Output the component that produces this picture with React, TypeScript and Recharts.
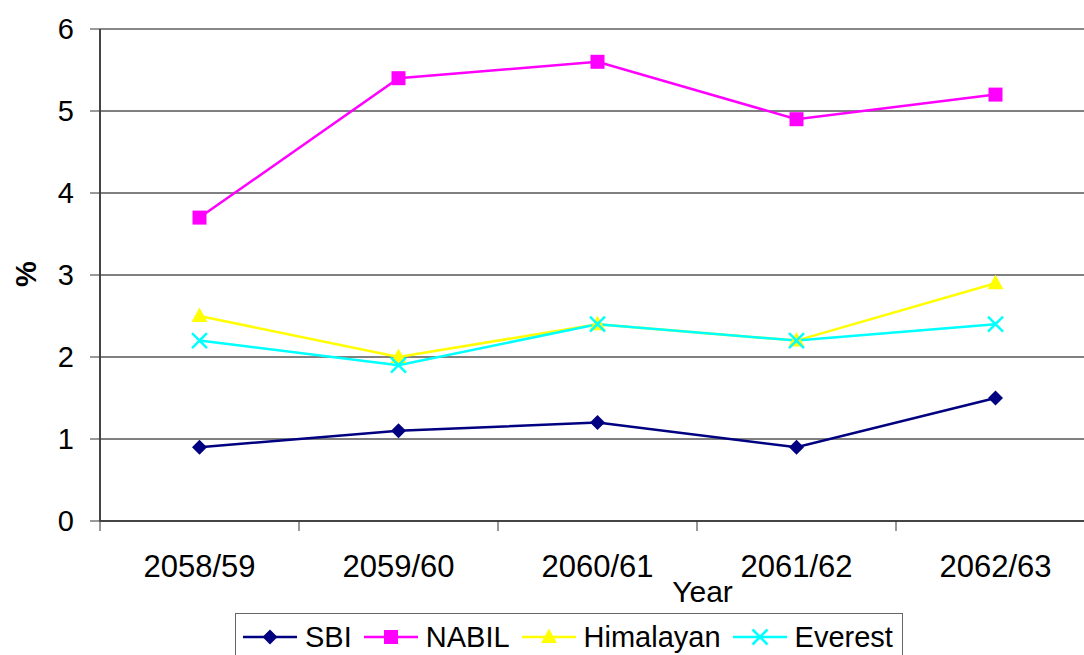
import { LineChart, Line, XAxis, YAxis, CartesianGrid, ReferenceLine } from 'recharts';

const years = ['2058/59', '2059/60', '2060/61', '2061/62', '2062/63'];
const sbi = [0.9, 1.1, 1.2, 0.9, 1.5];
const nabil = [3.7, 5.4, 5.6, 4.9, 5.2];
const himalayan = [2.5, 2.0, 2.4, 2.2, 2.9];
const everest = [2.2, 1.9, 2.4, 2.2, 2.4];
const yTicks = [0, 1, 2, 3, 4, 5, 6];

const series = [
  { key: 'SBI', color: '#000080', shape: 'diamond' },
  { key: 'NABIL', color: '#FF00FF', shape: 'square' },
  { key: 'Himalayan', color: '#FFFF00', shape: 'triangle' },
  { key: 'Everest', color: '#00FFFF', shape: 'cross' },
];

const data = years.map((year, i) => ({
  year,
  SBI: sbi[i],
  NABIL: nabil[i],
  Himalayan: himalayan[i],
  Everest: everest[i],
}));

const FONT = '"Liberation Sans", Arial, sans-serif';

const Marker = ({ cx, cy, shape, color }: any) => {
  if (cx == null || cy == null) return null;
  if (shape === 'diamond')
    return <polygon points={`${cx},${cy - 7.5} ${cx + 7.5},${cy} ${cx},${cy + 7.5} ${cx - 7.5},${cy}`} fill={color} />;
  if (shape === 'square') return <rect x={cx - 7} y={cy - 7} width={14} height={14} fill={color} />;
  if (shape === 'triangle')
    return <polygon points={`${cx},${cy - 8.5} ${cx + 8},${cy + 6} ${cx - 8},${cy + 6}`} fill={color} />;
  return (
    <g stroke={color} strokeWidth={2.5}>
      <line x1={cx - 7.5} y1={cy - 7.5} x2={cx + 7.5} y2={cy + 7.5} />
      <line x1={cx - 7.5} y1={cy + 7.5} x2={cx + 7.5} y2={cy - 7.5} />
    </g>
  );
};

const XTick = ({ x, payload, width }: any) => {
  const bw = width / years.length;
  const axisY = 521;
  return (
    <g>
      <line x1={x - bw / 2} y1={axisY} x2={x - bw / 2} y2={axisY + 10} stroke="#333" strokeWidth={1} />
      <text x={x} y={577} textAnchor="middle" fontSize={31} fontFamily={FONT} fill="#000">
        {payload.value}
      </text>
    </g>
  );
};

const LegendBox = () => (
  <div
    style={{
      position: 'absolute',
      left: 235,
      top: 613,
      width: 668,
      height: 60,
      display: 'flex',
      alignItems: 'flex-start',
      border: '1px solid #666',
      boxSizing: 'border-box',
      paddingLeft: 7,
      paddingTop: 7,
      fontFamily: FONT,
      fontSize: 29,
      lineHeight: '29px',
      background: '#fff',
    }}
  >
    {series.map((s) => (
      <div key={s.key} style={{ display: 'flex', alignItems: 'center', marginRight: 12 }}>
        <svg width={54} height={29} style={{ marginRight: 8 }}>
          <line x1={0} y1={16} x2={54} y2={16} stroke={s.color} strokeWidth={2.5} />
          <Marker cx={27} cy={16} shape={s.shape} color={s.color} />
        </svg>
        <span style={{ position: 'relative', top: 2 }}>{s.key}</span>
      </div>
    ))}
  </div>
);

const App = () => {
  return (
    <div style={{ position: 'fixed', left: 0, top: 0, width: 1084, height: 655, overflow: 'hidden', background: '#fff' }}>
      <LineChart width={1100} height={655} data={data} margin={{ top: 29, right: 5, bottom: 74, left: 0 }}>
        <CartesianGrid vertical={false} stroke="#000" strokeWidth={1} />
        <ReferenceLine y={6} stroke="#888" strokeWidth={2} />
        <XAxis
          dataKey="year"
          scale="band"
          height={60}
          axisLine={{ stroke: '#444', strokeWidth: 2 }}
          tickLine={false}
          tick={<XTick />}
          interval={0}
          label={({ viewBox }: any) => (
            <text
              x={viewBox.x + viewBox.width / 2 + 105}
              y={602}
              textAnchor="middle"
              fontSize={30}
              fontFamily={FONT}
              fill="#000"
            >
              Year
            </text>
          )}
        />
        <YAxis
          width={100}
          domain={[0, 6]}
          ticks={yTicks}
          interval={0}
          axisLine={{ stroke: '#444', strokeWidth: 2 }}
          tickLine={{ stroke: '#333' }}
          tickSize={10}
          tickMargin={16}
          tick={{ fontSize: 29, fontFamily: FONT, fill: '#000' }}
          label={({ viewBox }: any) => {
            const cy = viewBox.y + viewBox.height / 2 - 1;
            return (
              <text
                x={36}
                y={cy}
                transform={`rotate(-90 36 ${cy})`}
                textAnchor="middle"
                fontSize={29}
                fontWeight="bold"
                fontFamily={FONT}
                fill="#000"
              >
                %
              </text>
            );
          }}
        />
        {series.map((s) => (
          <Line
            key={s.key}
            dataKey={s.key}
            stroke={s.color}
            strokeWidth={2.5}
            type="linear"
            isAnimationActive={false}
            dot={(p: any) => <Marker key={`${s.key}-${p.index}`} cx={p.cx} cy={p.cy} shape={s.shape} color={s.color} />}
            activeDot={false}
          />
        ))}
      </LineChart>
      <LegendBox />
    </div>
  );
};

export default App;
